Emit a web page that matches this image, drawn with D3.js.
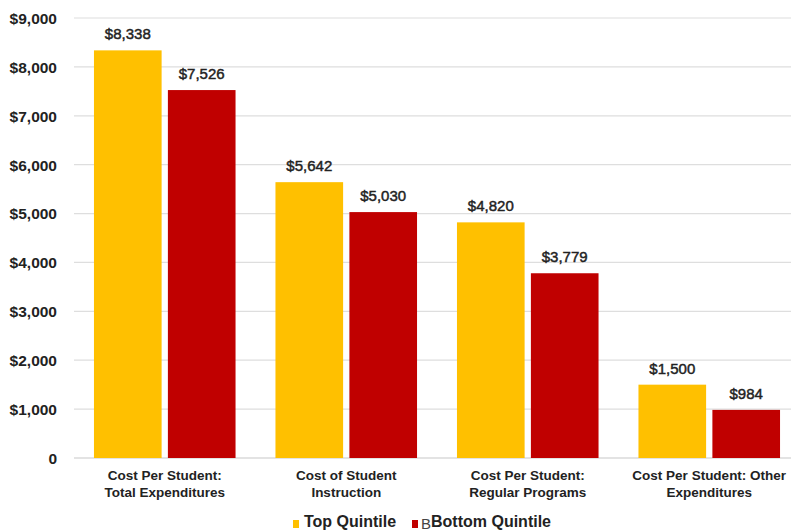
<!DOCTYPE html>
<html>
<head>
<meta charset="utf-8">
<script src="https://cdn.jsdelivr.net/npm/d3@7"></script>
<style>
  html, body { margin: 0; padding: 0; background: #fff; }
  svg { display: block; }
</style>
</head>
<body>
<svg id="chart" width="791" height="532"></svg>
<script>
// Per-student spending, top vs bottom quintile
const categories = [
  ["Cost Per Student:", "Total Expenditures"],
  ["Cost of Student", "Instruction"],
  ["Cost Per Student:", "Regular Programs"],
  ["Cost Per Student: Other", "Expenditures"]
];
const seriesNames = ["Top Quintile", "Bottom Quintile"];
const topQuintile = [8338, 5642, 4820, 1500];
const bottomQuintile = [7526, 5030, 3779, 984];
const tickValues = [0, 1000, 2000, 3000, 4000, 5000, 6000, 7000, 8000, 9000];
const colors = ["#FFC000", "#C00000"];

const svg = d3.select("#chart");
const margin = { left: 74, right: -9, top: 18, bottom: 74 };
const W = 791, H = 532;

const x0 = d3.scaleBand()
  .domain(d3.range(categories.length))
  .range([margin.left, W - margin.right])
  .paddingInner(0.22)
  .paddingOuter(0.11);

const x1 = d3.scaleBand()
  .domain([0, 1])
  .range([0, x0.bandwidth()])
  .paddingInner(0.085);

const y = d3.scaleLinear()
  .domain([0, 9000])
  .range([H - margin.bottom, margin.top]);

// gridlines
svg.append("g")
  .selectAll("line")
  .data(tickValues)
  .join("line")
  .attr("x1", margin.left)
  .attr("x2", W)
  .attr("y1", d => y(d))
  .attr("y2", d => y(d))
  .attr("stroke", d => d === 0 ? "#c8c8c8" : "#dedede")
  .attr("stroke-width", 1.2);

// y axis labels
const yAxis = d3.axisLeft(y)
  .tickValues(tickValues)
  .tickSize(0)
  .tickPadding(0)
  .tickFormat(d => d === 0 ? "0" : "$" + d3.format(",")(d));

svg.append("g")
  .attr("transform", `translate(${57},0)`)
  .call(yAxis)
  .call(g => g.select(".domain").remove())
  .selectAll("text")
  .attr("font-family", "'Liberation Sans', Arial, sans-serif")
  .attr("font-weight", "bold")
  .attr("font-size", 15.5)
  .attr("fill", "#222")
  .attr("dy", "0.35em");

const rows = categories.map((c, i) => ({
  i, values: [topQuintile[i], bottomQuintile[i]]
}));

const groups = svg.append("g")
  .selectAll("g")
  .data(rows)
  .join("g")
  .attr("transform", d => `translate(${x0(d.i)},0)`);

groups.selectAll("rect")
  .data(d => d.values.map((v, s) => ({ v, s })))
  .join("rect")
  .attr("x", d => x1(d.s))
  .attr("y", d => y(d.v))
  .attr("width", x1.bandwidth())
  .attr("height", d => y(0) - y(d.v))
  .attr("fill", d => colors[d.s]);

groups.selectAll("text.val")
  .data(d => d.values.map((v, s) => ({ v, s })))
  .join("text")
  .attr("class", "val")
  .attr("x", d => x1(d.s) + x1.bandwidth() / 2)
  .attr("y", d => y(d.v) - 11)
  .attr("text-anchor", "middle")
  .attr("font-family", "'Liberation Sans', Arial, sans-serif")
  .attr("font-size", 15)
  .attr("fill", "#222")
  .attr("stroke", "#222")
  .attr("stroke-width", 0.45)
  .text(d => "$" + d3.format(",")(d.v));

// category labels
const catG = svg.append("g");
categories.forEach((lines, i) => {
  const t = catG.append("text")
    .attr("x", x0(i) + x0.bandwidth() / 2)
    .attr("y", 480)
    .attr("text-anchor", "middle")
    .attr("font-family", "'Liberation Sans Narrow', 'Arial Narrow', sans-serif")
    .attr("font-weight", "bold")
    .attr("font-size", 13.5)
    .attr("fill", "#222");
  lines.forEach((ln, k) => {
    t.append("tspan")
      .attr("x", x0(i) + x0.bandwidth() / 2)
      .attr("dy", k === 0 ? 0 : 17)
      .text(ln);
  });
});

// legend
const legend = svg.append("g");
const legendItems = [
  { sx: 293, tx: 304, label: seriesNames[0], prefix: "" },
  { sx: 412, tx: 421, label: seriesNames[1], prefix: "B" }
];
legendItems.forEach((it, s) => {
  legend.append("rect")
    .attr("x", it.sx)
    .attr("y", 520)
    .attr("width", 6)
    .attr("height", 8)
    .attr("fill", colors[s]);
  const t = legend.append("text")
    .attr("x", it.tx)
    .attr("y", 527)
    .attr("font-family", "'Liberation Sans', Arial, sans-serif")
    .attr("font-size", 16)
    .attr("fill", "#222");
  if (it.prefix) {
    t.append("tspan")
      .attr("font-weight", "normal")
      .attr("font-size", 15)
      .attr("dy", 2)
      .attr("fill", "#444")
      .text(it.prefix);
  }
  t.append("tspan")
    .attr("font-weight", "bold")
    .attr("dy", it.prefix ? -2 : 0)
    .text(it.label);
});
</script>
</body>
</html>
